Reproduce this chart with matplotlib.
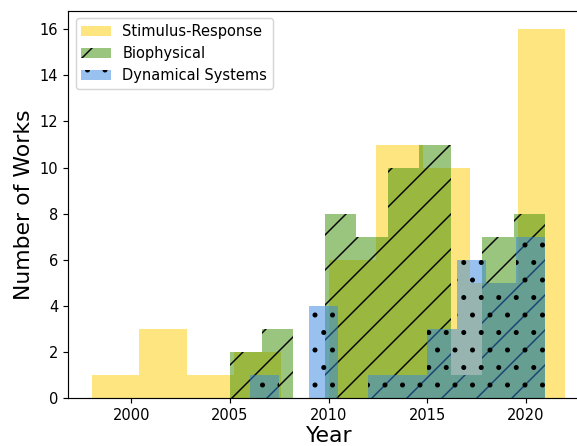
import numpy as np
import matplotlib
matplotlib.use("Agg")
import matplotlib.pyplot as plt

# histogram counts per series (10 bins each, own bin range)
sr_range = (1998, 2022)
sr_counts = [1, 3, 1, 2, 0, 6, 11, 10, 5, 16]

bio_range = (2005, 2021)
bio_counts = [2, 3, 0, 8, 7, 10, 11, 1, 7, 8]

dyn_range = (2006, 2021)
dyn_counts = [1, 0, 4, 0, 1, 1, 3, 6, 5, 7]

labels = ["Stimulus-Response", "Biophysical", "Dynamical Systems"]

fig = plt.figure(figsize=(577 / 105, 446 / 105), dpi=105)
ax = fig.add_axes([0.1184, 0.107, 0.902, 0.869])


def draw_hist(rng, counts, color, hatch, label):
    edges = np.linspace(rng[0], rng[1], len(counts) + 1)
    ax.bar(edges[:-1], counts, width=np.diff(edges), align="edge",
           color=color, alpha=0.5, hatch=hatch, linewidth=0, label=label)


draw_hist(sr_range, sr_counts, "#FFCC00", None, labels[0])
draw_hist(bio_range, bio_counts, "#378D00", "/", labels[1])
draw_hist(dyn_range, dyn_counts, "#3385E3", ".", labels[2])

ax.set_xlim(1996.8, 2023.2)
ax.set_ylim(0, 16.8)
ax.set_xticks([2000, 2005, 2010, 2015, 2020])
ax.set_yticks(range(0, 17, 2))
ax.tick_params(labelsize=10)
ax.set_xlabel("Year", fontsize=15, labelpad=2)
ax.set_ylabel("Number of Works", fontsize=15)
ax.legend(loc="upper left", fontsize=10)

fig.savefig("out.png", dpi=105)
